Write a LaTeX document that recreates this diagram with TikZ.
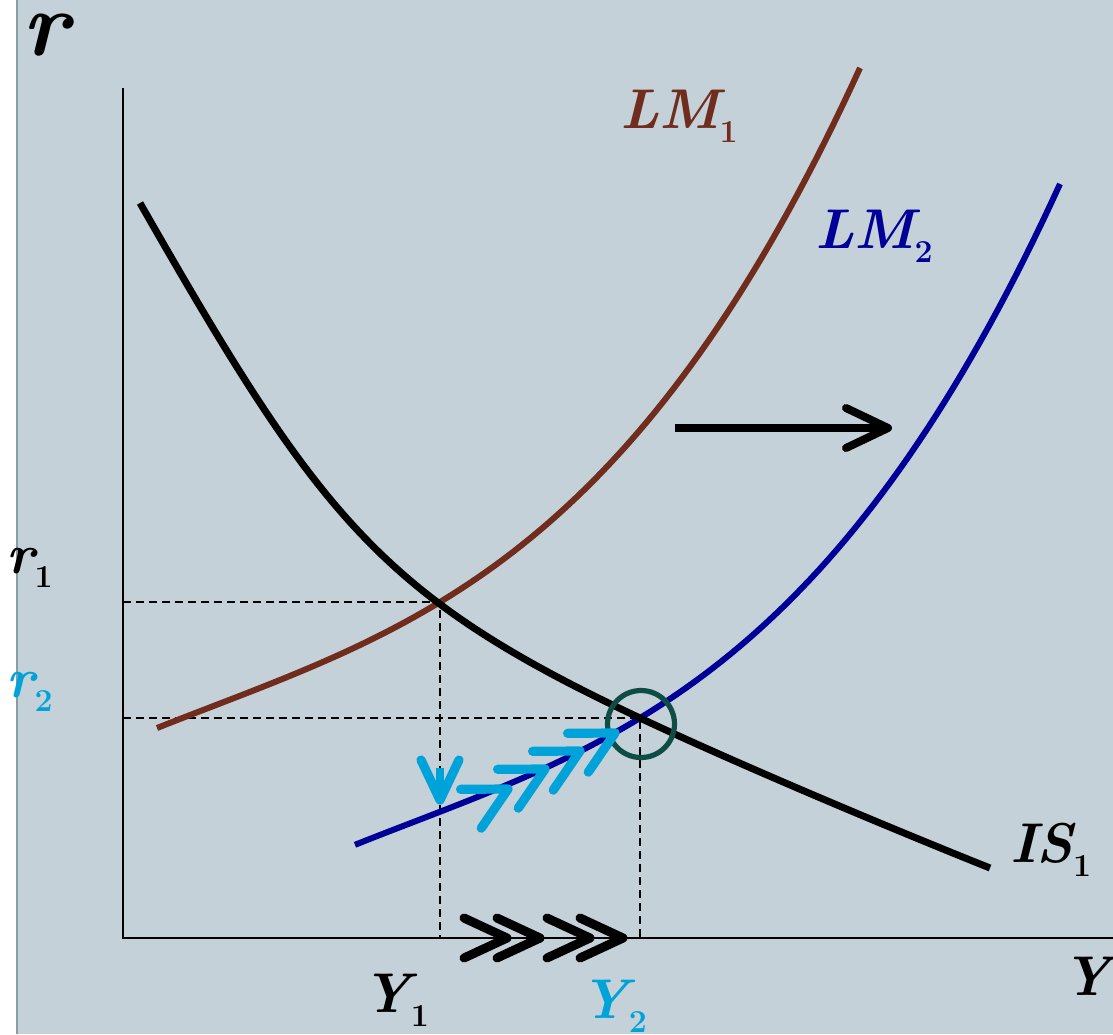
\documentclass[tikz,border=0pt]{standalone}
\usepackage{fontspec}
\usepackage{xcolor}
\usepackage{tikz}
\usetikzlibrary{calc}

\definecolor{panel}{RGB}{197,209,216}
\definecolor{panelrule}{RGB}{135,158,165}
\definecolor{lmbrown}{RGB}{112,44,28}
\definecolor{lmblue}{RGB}{0,0,152}
\definecolor{skycyan}{RGB}{0,163,217}
\definecolor{ringteal}{RGB}{14,76,70}

\newcommand{\sublbl}[2]{#1\raisebox{-7pt}{\fontsize{16}{16}\selectfont\upshape #2}}
% LM curve, pixel units (y down)
\newcommand{\lmy}[1]{938-(210+39.878*((#1-157)/100)-2.43*((#1-157)/100)^2+1.4386*((#1-157)/100)^3)}

\begin{document}
\begin{tikzpicture}[x=0.5pt, y=-0.5pt,
  lbl/.style={font=\fontsize{28}{30}\selectfont\bfseries\itshape, inner sep=0pt, anchor=base west},
  axis/.style={line width=1.2pt},
  guide/.style={line width=0.7pt, dash pattern=on 4pt off 2.5pt},
  curve/.style={line width=3pt},
  chev/.style={line width=4.6pt, line cap=round, line join=round}
]
  \useasboundingbox (0,0) rectangle (1113,1034);
  \fill[panel] (18,0) rectangle (1113,1034);
  \draw[panelrule, line width=1.2pt] (17,0) -- (17,1034);

  % axes
  \coordinate (O) at (123,938);
  \coordinate (ytop) at (123,88);
  \coordinate (xend) at (1113,938);
  \draw[axis] (ytop) -- (O) -- (xend);

  % equilibria
  \coordinate (e1) at (440,602);
  \coordinate (e2) at (640,718);
  \draw[guide] (O |- e1) -- (e1) -- (e1 |- O);
  \draw[guide] (O |- e2) -- (e2) -- (e2 |- O);

  % curves
  \draw[curve, lmbrown] plot[domain=157:860, samples=80] (\x, {\lmy{\x}});
  \draw[curve, lmblue, shift={(200,116)}] plot[domain=155:860, samples=80] (\x, {\lmy{\x}});
  \coordinate (is0) at (140,203);
  \coordinate (is1) at (990,868);
  \draw[curve, line width=3.5pt] (is0) .. controls (320,518) and (380,596) .. (e2)
    .. controls (740,765) and (890,828) .. (is1);

  \draw[ringteal, line width=2.6pt] (641,724) circle[radius=33.5];

  % shift of LM
  \coordinate (s0) at (675,428);
  \coordinate (s1) at (888,428);
  \draw[line width=4pt] (s0) -- (s1);
  \draw[chev, line width=4pt, shift={(s1)}] (-42,-20) -- (0,0) -- (-42,20);

  % adjustment path
  \draw[skycyan, line width=4.4pt] (440,768) -- (440,798);
  \draw[chev, skycyan, shift={(440,800)}, rotate=-90] (-40,-19) -- (0,0) -- (-40,19);
  \foreach \tx/\ty in {508/789, 545/769, 580/751, 615/733}
    \draw[chev, skycyan, shift={(\tx,\ty)}, rotate=28] (-42,-22) -- (0,0) -- (-42,22);
  \foreach \tx in {507, 540, 590, 623}
    \draw[chev, line width=4.5pt, shift={(\tx,938)}] (-43,-20) -- (0,0) -- (-43,20);

  % labels
  \node[lbl, font=\fontsize{46}{48}\selectfont\bfseries\itshape] (rlab) at (22,55) {r};
  \node[lbl] (r1) at (6,573) {\sublbl{r}{1}};
  \node[lbl, skycyan] (r2) at (6,697) {\sublbl{r}{2}};
  \node[lbl, lmbrown] (lm1) at (620,128) {\sublbl{LM}{1}};
  \node[lbl, lmblue] (lm2) at (815,248) {\sublbl{LM}{2}};
  \node[lbl] (is1lab) at (1010,862) {\sublbl{IS}{1}};
  \node[lbl] (y1) at (362,1012) {\sublbl{Y}{1}};
  \node[lbl, skycyan] (y2) at (580,1018) {\sublbl{Y}{2}};
  \node[lbl] (ylab) at (1062,995) {Y};
\end{tikzpicture}
\end{document}
